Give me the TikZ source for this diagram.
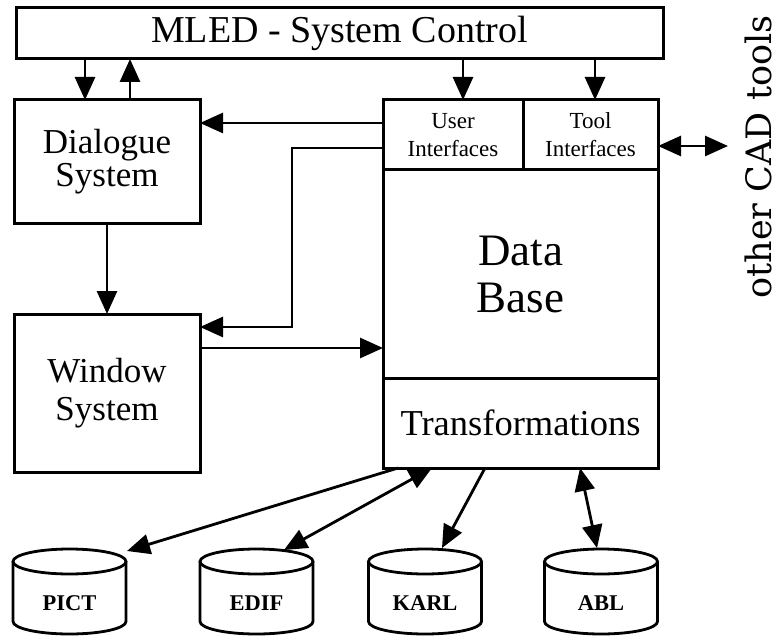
\documentclass[tikz,border=0pt]{standalone}
\usepackage{fontspec}
\setmainfont{Liberation Serif}
\newfontfamily\slabfont{DejaVu Serif}
\usetikzlibrary{arrows.meta}

% storage drum: #1 name, #2 centre x, #3 label
\newcommand\dbdrum[3]{%
  \draw[drumline] (#2-56.5,561.5) -- (#2-56.5,621.5)
    arc[start angle=180,end angle=0,x radius=56.5,y radius=12.5] -- (#2+56.5,561.5);
  \draw[drumline] (#2,561.5) ellipse[x radius=56.5,y radius=12.5];
  \node[drumlabel] (#1) at (#2,603) {#3};}

\begin{document}
\begin{tikzpicture}[x=1pt,y=-1pt,
  box/.style={draw, line width=3pt, inner sep=0pt, outer sep=0pt, align=center},
  arr/.style={line width=2.8pt, -{Triangle[length=23pt,width=20pt]}},
  dbl/.style={line width=2.8pt, {Triangle[length=23pt,width=20pt]}-{Triangle[length=23pt,width=20pt]}},
  drumline/.style={line width=2.8pt},
  drumlabel/.style={inner sep=0pt, font=\fontsize{22.5}{27}\selectfont\bfseries},
]
\useasboundingbox (0,0) rectangle (778,636);

% control bar
\node[box, minimum width=647pt, minimum height=51pt, font=\fontsize{38}{40}\selectfont]
  (ctrl) at (339.5,33.5) {MLED - System Control};

% left column
\node[box, minimum width=186pt, minimum height=124pt, font=\fontsize{35}{33}\selectfont]
  (dlg) at (107,162) {Dialogue\\System};
\node[box, minimum width=186pt, minimum height=158pt, font=\fontsize{35}{38}\selectfont]
  (win) at (107,393) {Window\\System};

% data base block
\node[box, minimum width=275pt, minimum height=368pt] (db) at (520.5,284) {};
\node[box, minimum width=140pt, minimum height=70pt, font=\fontsize{23}{28}\selectfont]
  (ui) at (453,135) {User\\Interfaces};
\node[box, minimum width=135pt, minimum height=70pt, font=\fontsize{23}{28}\selectfont]
  (tool) at (590.5,135) {Tool\\Interfaces};
\node[inner sep=0pt, align=center, font=\fontsize{45}{47}\selectfont]
  (data) at (520.5,274) {Data\\Base};
\node[box, minimum width=275pt, minimum height=90pt, font=\fontsize{36.5}{40}\selectfont]
  (trans) at (520.5,423) {Transformations};

% external tools
\node[rotate=90, anchor=base, inner sep=0pt, font=\slabfont\fontsize{35}{40}\selectfont]
  (other) at (771,157) {other CAD tools};
\coordinate (ext) at ([xshift=70pt,yshift=-11pt]tool.east);

% storage drums
\dbdrum{pict}{69.5}{PICT}
\dbdrum{edif}{256.5}{EDIF}
\dbdrum{karl}{425}{KARL}
\dbdrum{abl}{601}{ABL}

% control links
\draw[arr] ([xshift=-22pt]dlg.north |- ctrl.south) -- ([xshift=-22pt]dlg.north);
\draw[arr] ([xshift=23pt]dlg.north) -- ([xshift=23pt]dlg.north |- ctrl.south);
\draw[arr] ([xshift=10pt]ui.north |- ctrl.south) -- ([xshift=10pt]ui.north);
\draw[arr] ([xshift=4.5pt]tool.north |- ctrl.south) -- ([xshift=4.5pt]tool.north);

% interface links
\draw[arr] ([yshift=12pt]ui.west) -- ([yshift=12pt]ui.west -| dlg.east);
\draw[arr] ([yshift=-13pt]ui.west) -- ++(-91,0) |- ([yshift=66pt]win.east);
\draw[arr] ([yshift=45pt]win.east) -- ([yshift=45pt]win.east -| db.west);
\draw[arr] (dlg.south) -- (win.north);
\draw[dbl] ([yshift=-11pt]tool.east) -- (ext);

% format transformations
\draw[arr] ([xshift=-122.5pt]trans.south) -- ([xshift=57.5pt,yshift=52pt]pict.center);
\draw[dbl] ([xshift=-88.5pt]trans.south) -- ([xshift=27.5pt,yshift=53pt]edif.center);
\draw[arr] ([xshift=-35.5pt]trans.south) -- ([xshift=17pt,yshift=55pt]karl.center);
\draw[dbl] ([xshift=59.5pt]trans.south) -- ([xshift=-4pt,yshift=55pt]abl.center);
\end{tikzpicture}
\end{document}
